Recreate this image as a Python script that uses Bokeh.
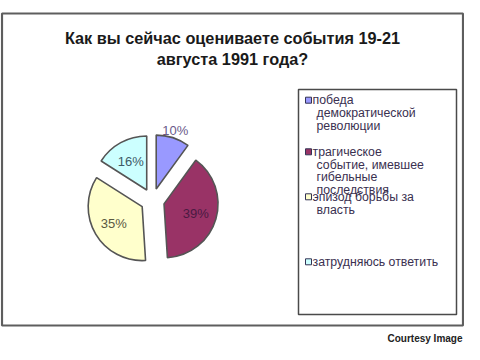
import numpy as np
from bokeh.plotting import figure
from bokeh.models import Range1d
from bokeh.core.properties import value
from bokeh.embed import file_html
from bokeh.resources import INLINE

# ---------------- data ----------------
title_lines = ["Как вы сейчас оцениваете события 19-21", "августа 1991 года?"]
categories = ["победа демократической революции",
              "трагическое событие, имевшее гибельные последствия",
              "эпизод борьбы за власть",
              "затрудняюсь ответить"]
legend_lines = [["победа", "демократической", "революции"],
                ["трагическое", "событие, имевшее", "гибельные", "последствия"],
                ["эпизод борьбы за", "власть"],
                ["затрудняюсь ответить"]]
shares = [10, 39, 35, 16]
pct_labels = ["10%", "39%", "35%", "16%"]
colors = ["#9999FF", "#993366", "#FFFFCC", "#CCFFFF"]
label_colors = ["#6a5a8a", "#4a1a42", "#5a5842", "#3e5a66"]
credit = "Courtesy Image"

# ---------------- layout ----------------
W, H = 464, 344


def Y(t):
    return H - t


p = figure(width=W, height=H, x_range=Range1d(0, W), y_range=Range1d(0, H),
           output_backend="svg", toolbar_location=None, min_border=0)
p.axis.visible = False
p.grid.visible = False
p.outline_line_color = None
p.background_fill_color = "white"
p.border_fill_color = "white"

FONT = value("Liberation Sans")

# outer frame
p.quad(left=[1.5], right=[462.5], top=[Y(13)], bottom=[Y(325)],
       fill_color=None, line_color="#5e5e5e", line_width=2.2)

# title
p.text(x=[232, 232], y=[Y(37), Y(58)], text=title_lines,
       text_align="center", text_baseline="middle", text_font=FONT,
       text_font_size="16.3px", text_font_style="bold", text_color="#1a1a1a")

# pie
vals = np.array(shares, dtype=float)
frac = vals / vals.sum()
cum = np.concatenate([[0.0], np.cumsum(frac)])
a_start = np.pi / 2 - cum[:-1] * 2 * np.pi
a_end = np.pi / 2 - cum[1:] * 2 * np.pi
mid = (a_start + a_end) / 2
cx, cy = 152, Y(200)
r = 54
explode = 12
xs = cx + explode * np.cos(mid)
ys = cy + explode * np.sin(mid)
p.wedge(x=xs, y=ys, radius=r, start_angle=a_end, end_angle=a_start,
        direction="anticlock", fill_color=colors, line_color="#555555",
        line_width=1.6)

lab_r = np.where(frac < 0.12, 74, 45)
p.text(x=cx + lab_r * np.cos(mid), y=cy + lab_r * np.sin(mid), text=pct_labels,
       text_align="center", text_baseline="middle", text_font=FONT,
       text_font_size="13px", text_color=label_colors)

# legend box
p.quad(left=[298], right=[456], top=[Y(89)], bottom=[Y(314)],
       fill_color=None, line_color="#4a4a4a", line_width=1.5)

entry_top = [99.7, 151.3, 196.3, 261.3]
line_gap = 12.7
mx = 308
p.scatter(x=[mx] * len(categories), y=[Y(t) for t in entry_top], marker="square",
          size=6, fill_color=colors, line_color="#333355", line_width=1)
tx, ty, tt = [], [], []
for lines, t0 in zip(legend_lines, entry_top):
    for j, ln in enumerate(lines):
        tx.append(312 if j == 0 else 316)
        ty.append(Y(t0 + j * line_gap))
        tt.append(ln)
p.text(x=tx, y=ty, text=tt, text_align="left", text_baseline="middle",
       text_font=FONT, text_font_size="12.3px", text_color="#3a3050")

# credit
p.text(x=[462], y=[Y(338)], text=[credit], text_align="right",
       text_baseline="middle", text_font=FONT, text_font_size="10px",
       text_font_style="bold", text_color="#222222")

open("out.html", "w").write(file_html(p, INLINE))
